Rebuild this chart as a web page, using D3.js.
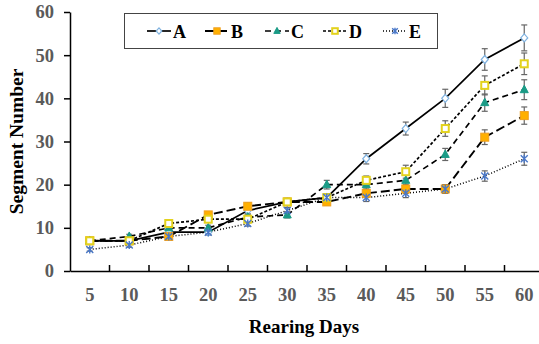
<!DOCTYPE html>
<html>
<head>
<meta charset="utf-8">
<script src="https://cdn.jsdelivr.net/npm/d3@7"></script>
<style>
  body { margin: 0; background: #fff; }
  text { font-family: "Liberation Serif", "Times New Roman", serif; font-weight: bold; }
</style>
</head>
<body>
<div id="chart"></div>
<script>
const days = [5, 10, 15, 20, 25, 30, 35, 40, 45, 50, 55, 60];
const yTicks = [0, 10, 20, 30, 40, 50, 60];

const seriesA = [7, 7, 9, 9, 14, 16, 17, 26, 33, 40, 49, 54];
const seriesB = [7, 7, 8, 13, 15, 16, 16, 18, 19, 19, 31, 36];
const seriesC = [7, 8, 10, 10, 12.5, 13, 20, 20, 21, 27, 39, 42];
const seriesD = [7, 7, 11, 12, 12, 16, 17, 21, 23, 33, 43, 48];
const seriesE = [5, 6, 8, 9, 11, 14, 17, 17, 18, 19, 22, 26];

const errA = [0.5, 0.5, 0.6, 0.6, 0.8, 0.8, 0.9, 1.2, 1.5, 2.1, 2.5, 3];
const errB = [0.5, 0.5, 0.6, 0.7, 0.8, 0.8, 0.8, 0.9, 1, 1, 1.7, 2];
const errC = [0.5, 0.5, 0.6, 0.6, 0.7, 0.7, 1, 1, 1.2, 1.4, 2, 2.3];
const errD = [0.5, 0.5, 0.6, 0.7, 0.7, 0.8, 0.8, 1, 1.5, 1.8, 2.2, 2.5];
const errE = [0.4, 0.5, 0.5, 0.6, 0.6, 0.7, 0.8, 0.9, 1, 1, 1.2, 1.5];

const names = ["A", "B", "C", "D", "E"];

const width = 539, height = 344;
const margin = { left: 70, right: -5, top: 12, bottom: 73 };

const svg = d3.select("#chart").append("svg")
    .attr("width", width)
    .attr("height", height);

const x = d3.scaleBand()
    .domain(days)
    .range([margin.left, width - margin.right])
    .padding(0);

const y = d3.scaleLinear()
    .domain([0, 60])
    .range([height - margin.bottom, margin.top]);

const series = [
    { name: "A", values: seriesA, err: errA, dash: null, width: 1.7, marker: "diamond", fill: "#fff", stroke: "#7fb2e0" },
    { name: "B", values: seriesB, err: errB, dash: "9,4", width: 1.9, marker: "square", fill: "#ffb000", stroke: "#f0a020" },
    { name: "C", values: seriesC, err: errC, dash: "6,4", width: 1.7, marker: "triangle", fill: "#1a9b86", stroke: "#1a9b86" },
    { name: "D", values: seriesD, err: errD, dash: "3,2", width: 1.7, marker: "dsquare", fill: "#fff", stroke: "#e3d21c" },
    { name: "E", values: seriesE, err: errE, dash: "1,2", width: 1.5, marker: "star", fill: "none", stroke: "#4a78c8" }
];

// y axis
const yAxis = d3.axisLeft(y).tickValues(yTicks).tickSize(6).tickSizeOuter(0);
const gy = svg.append("g")
    .attr("transform", `translate(${margin.left},0)`)
    .call(yAxis);
gy.select(".domain").attr("stroke", "#000").attr("stroke-width", 1.5);
gy.selectAll(".tick line").attr("stroke", "#000").attr("stroke-width", 1.5);
gy.selectAll(".tick text")
    .attr("x", -16)
    .attr("fill", "#5a5a5a")
    .style("font-size", "18.5px")
    .style("font-family", "Liberation Serif")
    .style("font-weight", "bold");

// x axis: labels centred in bands, ticks at band boundaries
const xAxis = d3.axisBottom(x).tickSize(0).tickSizeOuter(0);
const gx = svg.append("g")
    .attr("transform", `translate(0,${y(0)})`)
    .call(xAxis);
gx.select(".domain").attr("stroke", "#000").attr("stroke-width", 1.5);
gx.selectAll(".tick text")
    .attr("y", 17)
    .attr("fill", "#5a5a5a")
    .style("font-size", "18.5px")
    .style("font-family", "Liberation Serif")
    .style("font-weight", "bold");

svg.append("g").selectAll("line")
    .data(days.slice(1))
    .join("line")
    .attr("x1", d => x(d))
    .attr("x2", d => x(d))
    .attr("y1", y(0))
    .attr("y2", y(0) - 6)
    .attr("stroke", "#000")
    .attr("stroke-width", 1.5);

// axis titles
svg.append("text")
    .attr("transform", `translate(23,${(y(0) + y(60)) / 2}) rotate(-90)`)
    .attr("text-anchor", "middle")
    .style("font-size", "19.5px")
    .text("Segment Number");

svg.append("text")
    .attr("x", 304)
    .attr("y", 333)
    .attr("text-anchor", "middle")
    .style("font-size", "19px")
    .text("Rearing Days");

const cx = d => x(d) + x.bandwidth() / 2;

// lines
const line = d3.line()
    .x((d, i) => cx(days[i]))
    .y(d => y(d));

svg.append("g").selectAll("path")
    .data(series)
    .join("path")
    .attr("d", s => line(s.values))
    .attr("fill", "none")
    .attr("stroke", "#000")
    .attr("stroke-width", s => s.width)
    .attr("stroke-dasharray", s => s.dash);

// error bars
const eg = svg.append("g").attr("stroke", "#666").attr("stroke-width", 1.2);
series.forEach(s => {
    s.values.forEach((v, i) => {
        const px = cx(days[i]);
        const e = s.err[i];
        eg.append("line").attr("x1", px).attr("x2", px).attr("y1", y(v - e)).attr("y2", y(v + e));
        eg.append("line").attr("x1", px - 3).attr("x2", px + 3).attr("y1", y(v - e)).attr("y2", y(v - e));
        eg.append("line").attr("x1", px - 3).attr("x2", px + 3).attr("y1", y(v + e)).attr("y2", y(v + e));
    });
});

// markers
function drawMarker(g, s, px, py, k = 1) {
    if (s.marker === "diamond") {
        g.append("path").attr("d", `M${px},${py - 4 * k}L${px + 3.5 * k},${py}L${px},${py + 4 * k}L${px - 3.5 * k},${py}Z`)
            .attr("fill", s.fill).attr("stroke", s.stroke).attr("stroke-width", 1.2);
    } else if (s.marker === "square") {
        g.append("rect").attr("x", px - 4 * k).attr("y", py - 4 * k).attr("width", 8 * k).attr("height", 8 * k)
            .attr("fill", s.fill).attr("stroke", s.stroke).attr("stroke-width", 1);
    } else if (s.marker === "triangle") {
        g.append("path").attr("d", `M${px},${py - 4.5 * k}L${px + 4 * k},${py + 3 * k}L${px - 4 * k},${py + 3 * k}Z`)
            .attr("fill", s.fill).attr("stroke", s.stroke);
    } else if (s.marker === "dsquare") {
        g.append("rect").attr("x", px - 3.5 * k).attr("y", py - 3.5 * k).attr("width", 7 * k).attr("height", 7 * k)
            .attr("fill", s.fill).attr("stroke", s.stroke).attr("stroke-width", 2);
    } else if (s.marker === "star") {
        const r = 3.5 * k;
        g.append("path")
            .attr("d", `M${px - r},${py - r}L${px + r},${py + r}M${px - r},${py + r}L${px + r},${py - r}M${px},${py - r - 0.5}L${px},${py + r + 0.5}`)
            .attr("stroke", s.stroke).attr("stroke-width", 1.4).attr("fill", "none");
    }
}

series.forEach(s => {
    const g = svg.append("g");
    s.values.forEach((v, i) => drawMarker(g, s, cx(days[i]), y(v)));
});

// legend
const legend = svg.append("g");
legend.append("rect")
    .attr("x", 124.5).attr("y", 13.5)
    .attr("width", 313).attr("height", 35)
    .attr("fill", "#fff").attr("stroke", "#444").attr("stroke-width", 1);

const legendX = [147, 205, 265, 323, 383];
series.forEach((s, i) => {
    const lx = legendX[i], ly = 31;
    legend.append("line")
        .attr("x1", lx).attr("x2", lx + 24)
        .attr("y1", ly).attr("y2", ly)
        .attr("stroke", "#000").attr("stroke-width", s.width)
        .attr("stroke-dasharray", s.dash);
    drawMarker(legend, s, lx + 12, ly, 0.8);
    legend.append("text")
        .attr("x", lx + 26).attr("y", ly + 6.5)
        .style("font-size", "18px")
        .text(names[i]);
});
</script>
</body>
</html>
